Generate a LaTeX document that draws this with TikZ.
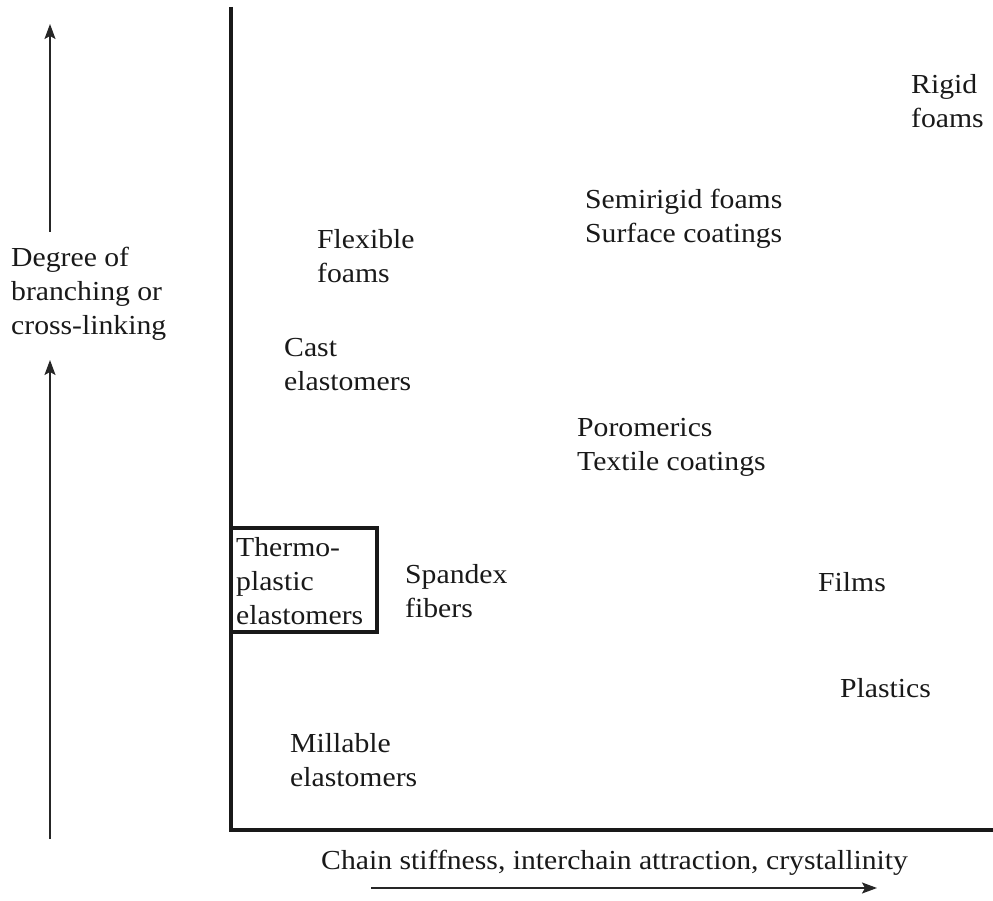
\documentclass[tikz,border=0pt]{standalone}
\usepackage{fontspec}
\setmainfont[FakeStretch=1.08]{Liberation Serif}
\usetikzlibrary{arrows.meta}
\tikzset{
  lbl/.style={font=\fontsize{27.5}{34}\selectfont, align=left, anchor=west, inner sep=0pt, text=black!90},
  axisline/.style={line width=4.5pt, black!90},
  arr/.style={line width=1.6pt, black!85, -{Stealth[length=15pt,width=11pt,inset=3pt]}},
  boxline/.style={line width=3.2pt, black!90}
}
\begin{document}
\begin{tikzpicture}[x=1pt,y=-1pt]
\useasboundingbox (0,0) rectangle (993,901);
% axes
\coordinate (ytop) at (231,7);
\coordinate (origin) at (231,830);
\coordinate (xend) at (993,830);
\draw[axisline] (ytop) -- (origin) -- (xend);
% box for thermoplastic elastomers
\draw[boxline] (231,528) rectangle (377,632);
% left axis label and arrows
\node[lbl] (deg) at (11,294) {Degree of\\branching or\\cross-linking};
\coordinate (a1s) at (50,232);
\coordinate (a1e) at (50,24);
\coordinate (a2s) at (50,839);
\coordinate (a2e) at (50,360);
\draw[arr] (a1s) -- (a1e);
\draw[arr] (a2s) -- (a2e);
% bottom label and arrow
\node[lbl] (xlab) at (321,863) {Chain stiffness, interchain attraction, crystallinity};
\coordinate (b1s) at (371,888);
\coordinate (b1e) at (877,888);
\draw[arr] (b1s) -- (b1e);
% category labels
\node[lbl] (rigid) at (911,101) {Rigid\\foams};
\node[lbl] (semi) at (585,219) {Semirigid foams\\Surface coatings};
\node[lbl] (flex) at (317,256) {Flexible\\foams};
\node[lbl] (cast) at (284,365) {Cast\\elastomers};
\node[lbl] (poro) at (577,447) {Poromerics\\Textile coatings};
\node[lbl] (tpe) at (236,581) {Thermo-\\plastic\\elastomers};
\node[lbl] (span) at (405,591) {Spandex\\fibers};
\node[lbl] (films) at (818,582) {Films};
\node[lbl] (plast) at (840,688) {Plastics};
\node[lbl] (mill) at (290,760) {Millable\\elastomers};
\end{tikzpicture}
\end{document}
